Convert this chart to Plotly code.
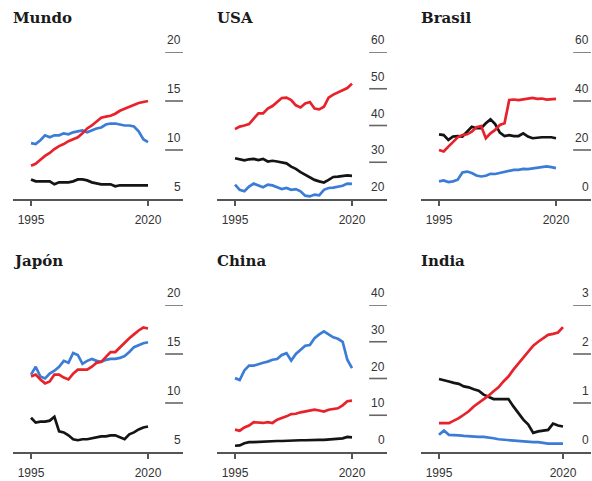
import plotly.graph_objects as go

years = list(range(1995, 2021))

titles = ["Mundo", "USA", "Brasil", "Japón", "China", "India"]

# Mundo
mundo_red = [8.4, 8.6, 9.0, 9.4, 9.7, 10.1, 10.4, 10.6, 10.9, 11.1, 11.3, 11.7, 12.2, 12.5, 12.9, 13.3, 13.4, 13.5, 13.7, 14.0, 14.2, 14.4, 14.6, 14.8, 14.9, 15.0]
mundo_blue = [10.7, 10.6, 11.0, 11.5, 11.3, 11.5, 11.5, 11.7, 11.6, 11.8, 11.9, 12.0, 11.8, 12.0, 12.2, 12.3, 12.6, 12.7, 12.7, 12.6, 12.5, 12.5, 12.4, 11.9, 11.1, 10.8]
mundo_black = [7.0, 6.8, 6.8, 6.8, 6.8, 6.5, 6.7, 6.7, 6.7, 6.8, 7.0, 7.0, 6.9, 6.7, 6.6, 6.5, 6.5, 6.5, 6.3, 6.4, 6.4, 6.4, 6.4, 6.4, 6.4, 6.4]

# USA
usa_red = [39.0, 39.7, 40.0, 40.4, 41.9, 43.3, 43.3, 44.6, 45.3, 46.4, 47.5, 47.6, 46.9, 45.5, 44.9, 46.0, 46.4, 44.6, 44.4, 45.1, 47.6, 48.4, 49.0, 49.6, 50.2, 51.4]
usa_blue = [23.9, 22.5, 22.1, 23.4, 24.2, 23.7, 23.2, 23.9, 23.7, 23.2, 22.7, 23.0, 22.5, 22.7, 22.1, 20.9, 20.7, 21.2, 21.0, 22.5, 23.0, 23.1, 23.4, 23.6, 24.2, 24.1]
usa_black = [31.1, 30.9, 30.5, 30.8, 30.9, 30.6, 30.9, 30.2, 30.4, 30.2, 30.0, 29.7, 28.8, 28.2, 27.3, 26.6, 25.9, 25.2, 24.8, 24.5, 25.2, 26.0, 26.1, 26.3, 26.4, 26.3]

# Brasil
brasil_red = [20.0, 19.4, 21.4, 23.4, 25.2, 26.1, 26.4, 27.5, 29.3, 29.8, 24.8, 26.8, 28.2, 30.2, 30.9, 40.4, 40.6, 40.4, 40.6, 40.9, 41.3, 40.9, 41.0, 40.6, 40.6, 40.9]
brasil_blue = [7.2, 7.6, 6.9, 7.2, 7.9, 10.8, 11.2, 10.6, 9.6, 9.2, 9.5, 10.3, 10.2, 10.6, 11.0, 11.5, 11.9, 11.9, 12.3, 12.2, 12.5, 12.6, 12.9, 13.3, 13.0, 12.6]
brasil_black = [26.4, 26.1, 24.1, 25.5, 25.7, 25.5, 27.5, 29.5, 28.9, 28.9, 30.9, 32.5, 30.6, 27.1, 25.7, 26.1, 25.7, 25.7, 26.8, 25.5, 24.8, 25.1, 25.2, 25.2, 25.2, 24.8]

# Japón
japon_red = [12.7, 12.9, 12.4, 12.0, 12.2, 12.9, 12.9, 12.6, 12.4, 13.0, 13.4, 13.4, 13.4, 13.7, 14.1, 14.2, 14.7, 15.2, 15.2, 15.7, 16.2, 16.6, 17.0, 17.4, 17.7, 17.6]
japon_blue = [12.9, 13.7, 12.7, 12.5, 13.0, 13.3, 13.7, 14.3, 14.1, 15.1, 14.9, 14.0, 14.3, 14.5, 14.3, 14.2, 14.4, 14.5, 14.5, 14.6, 14.8, 15.2, 15.7, 15.9, 16.1, 16.2]
japon_black = [8.5, 8.0, 8.1, 8.1, 8.2, 8.6, 7.1, 7.0, 6.7, 6.3, 6.2, 6.3, 6.3, 6.4, 6.5, 6.6, 6.6, 6.7, 6.7, 6.5, 6.3, 6.8, 7.0, 7.3, 7.5, 7.6]

# China
china_red = [6.1, 5.8, 6.7, 7.2, 8.1, 7.9, 7.9, 8.1, 7.9, 8.8, 9.2, 9.7, 10.3, 10.4, 10.8, 11.0, 11.3, 11.5, 11.3, 11.0, 11.5, 11.7, 11.9, 12.7, 13.8, 14.0]
china_blue = [20.1, 19.6, 22.2, 23.5, 23.5, 24.0, 24.3, 24.6, 25.1, 25.3, 26.4, 26.9, 24.9, 26.7, 27.8, 28.9, 29.1, 31.0, 32.0, 32.8, 32.0, 31.2, 30.8, 30.0, 25.1, 22.8]
china_black = [1.7, 1.8, 2.4, 2.7, 2.7, 2.8, 2.9, 2.9, 3.0, 3.0, 3.0, 3.1, 3.1, 3.2, 3.2, 3.2, 3.3, 3.3, 3.3, 3.3, 3.4, 3.4, 3.5, 3.7, 4.1, 4.0]

# India
india_red = [0.59, 0.59, 0.59, 0.64, 0.69, 0.76, 0.83, 0.93, 1.0, 1.08, 1.15, 1.24, 1.32, 1.44, 1.54, 1.68, 1.80, 1.91, 2.03, 2.17, 2.25, 2.32, 2.39, 2.41, 2.44, 2.55]
india_blue = [0.35, 0.44, 0.35, 0.35, 0.34, 0.33, 0.32, 0.32, 0.31, 0.31, 0.30, 0.28, 0.26, 0.25, 0.24, 0.23, 0.22, 0.22, 0.21, 0.20, 0.20, 0.18, 0.17, 0.17, 0.17, 0.17]
india_black = [1.49, 1.47, 1.44, 1.41, 1.39, 1.34, 1.32, 1.28, 1.25, 1.17, 1.13, 1.08, 1.08, 1.08, 1.08, 0.93, 0.79, 0.66, 0.56, 0.39, 0.42, 0.44, 0.45, 0.58, 0.54, 0.52]

y_ranges = [[5, 20], [20, 60], [0, 60], [5, 20], [0, 40], [0, 3]]
y_ticks = [[5, 10, 15, 20], [20, 30, 40, 50, 60], [0, 20, 40, 60], [5, 10, 15, 20], [0, 10, 20, 30, 40], [0, 1, 2, 3]]
x_ticks = [1995, 2020]

series = [
    (mundo_black, mundo_blue, mundo_red),
    (usa_black, usa_blue, usa_red),
    (brasil_black, brasil_blue, brasil_red),
    (japon_black, japon_blue, japon_red),
    (china_black, china_blue, china_red),
    (india_black, india_blue, india_red),
]

colors = ["#141414", "#3b7dd6", "#e8222b"]

W, H = 592, 481
col_px = [(13, 183), (217, 387), (421, 591)]
row_px = [(52, 199), (305, 452)]

fig = go.Figure()
layout = dict(
    width=W, height=H, margin=dict(l=0, r=0, t=0, b=0),
    paper_bgcolor="white", plot_bgcolor="white", showlegend=False,
)
annotations = []
shapes = []

for i, (title, sers) in enumerate(zip(titles, series)):
    r, c = divmod(i, 3)
    n = "" if i == 0 else str(i + 1)
    xa, ya = "x" + n, "y" + n
    for vals, col in zip(sers, colors):
        fig.add_trace(go.Scatter(x=years, y=vals, mode="lines", xaxis=xa, yaxis=ya,
                                 line=dict(color=col, width=2.7), hoverinfo="skip"))
    x0p, x1p = col_px[c]
    ytop, ybot = row_px[r]
    xr = [1991.37, 2025.65] if title == "India" else [1991.15, 2027.48]
    layout["xaxis" + n] = dict(
        domain=[x0p / W, x1p / W], range=xr, anchor=ya,
        showline=True, linecolor="#555", linewidth=1.5,
        ticks="outside", ticklen=5, tickwidth=1.3, tickcolor="#555",
        tickvals=x_ticks, ticktext=[str(t) for t in x_ticks],
        tickfont=dict(family="Liberation Sans, Arial, sans-serif", size=12, color="#333"),
        ticklabelstandoff=4,
        showgrid=False, zeroline=False, fixedrange=True,
    )
    layout["yaxis" + n] = dict(
        domain=[1 - ybot / H, 1 - ytop / H], range=y_ranges[i], anchor=xa,
        visible=False, fixedrange=True,
    )
    for tv in y_ticks[i]:
        if tv != y_ranges[i][0]:
            shapes.append(dict(type="line", xref=xa + " domain", yref=ya,
                               x0=0.895, x1=1.0, y0=tv, y1=tv,
                               line=dict(color="#666", width=1.6)))
        annotations.append(dict(xref=xa + " domain", yref=ya, x=1.0, y=tv,
                                xanchor="right", yanchor="bottom", yshift=3,
                                text=str(tv), showarrow=False,
                                font=dict(family="Liberation Sans, Arial, sans-serif", size=12, color="#333")))
    annotations.append(dict(xref="paper", yref="paper", x=(x0p - 2) / W,
                            y=1 - (18 if r == 0 else 261) / H,
                            xanchor="left", yanchor="middle", text="<b>%s</b>" % title,
                            showarrow=False,
                            font=dict(family="DejaVu Serif, serif", size=15, color="#1a1a1a")))

layout["annotations"] = annotations
layout["shapes"] = shapes
fig.update_layout(**layout)
fig.write_html("out.html", config={"displayModeBar": False, "staticPlot": True},
               post_script="document.body.style.margin='0';document.body.style.overflow='hidden';")
